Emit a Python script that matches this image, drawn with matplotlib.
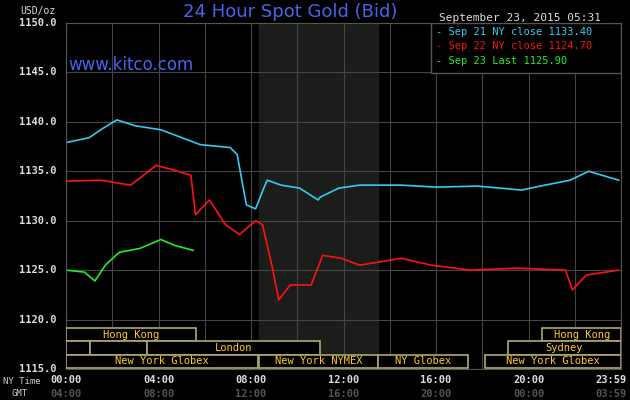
import matplotlib.pyplot as plt
from matplotlib.patches import Rectangle

# hours since 00:00 NY time, price in USD/oz
sep21_hours = [0, 1.0, 1.5, 2.2, 3.0, 4.1, 5.8, 7.1, 7.4, 7.8, 8.2, 8.5, 8.7, 9.3, 10.1, 10.9, 11.0, 11.8, 12.7, 14.5, 16.0, 17.8, 19.7, 20.5, 21.8, 22.6, 23.9]
sep21_price = [1137.9, 1138.4, 1139.2, 1140.2, 1139.6, 1139.2, 1137.7, 1137.4, 1136.7, 1131.6, 1131.2, 1133.0, 1134.1, 1133.6, 1133.3, 1132.1, 1132.4, 1133.3, 1133.6, 1133.6, 1133.4, 1133.5, 1133.1, 1133.5, 1134.1, 1135.0, 1134.1]
sep22_hours = [0, 1.5, 2.8, 3.9, 4.7, 5.4, 5.6, 6.2, 6.9, 7.5, 8.2, 8.5, 8.9, 9.2, 9.7, 10.6, 11.1, 11.9, 12.7, 14.5, 15.8, 17.5, 19.5, 21.6, 21.9, 22.5, 23.9]
sep22_price = [1134.0, 1134.1, 1133.6, 1135.6, 1135.1, 1134.6, 1130.6, 1132.1, 1129.6, 1128.6, 1130.0, 1129.6, 1125.5, 1122.0, 1123.5, 1123.5, 1126.5, 1126.2, 1125.5, 1126.2, 1125.5, 1125.0, 1125.2, 1125.0, 1123.0, 1124.5, 1125.0]
sep23_hours = [0, 0.8, 1.25, 1.7, 2.3, 3.2, 4.1, 4.7, 5.5]
sep23_price = [1125.0, 1124.8, 1123.9, 1125.5, 1126.8, 1127.2, 1128.1, 1127.5, 1127.0]

sessions = [  # (row, start, end, label)
    (2, 0, 5.6, 'Hong Kong'), (2, 20.6, 24, 'Hong Kong'),
    (1, 0, 1.05, ''), (1, 1.05, 3.5, ''), (1, 3.5, 11.0, 'London'), (1, 19.1, 24, 'Sydney'),
    (0, 0, 8.3, 'New York Globex'), (0, 8.35, 13.5, 'New York NYMEX'),
    (0, 13.5, 17.4, 'NY Globex'), (0, 18.1, 24, 'New York Globex'),
]
tick_hours = [0, 4, 8, 12, 16, 20, 24]
ny_labels = ['00:00', '04:00', '08:00', '12:00', '16:00', '20:00', '23:59']
gmt_labels = ['04:00', '08:00', '12:00', '16:00', '20:00', '00:00', '03:59']

mono = 'DejaVu Sans Mono'
fig = plt.figure(figsize=(6.3, 4), dpi=100, facecolor='black')
ax = fig.add_axes([66/630, 31/400, 555/630, 346/400], facecolor='black')
ax.set_xlim(0, 24)
ax.set_ylim(1115, 1150)
for s in ax.spines.values():
    s.set_color('#555555')
ax.set_xticks(range(0, 25, 2))
ax.set_yticks(range(1115, 1151, 5))
ax.grid(True, color='#444444', linewidth=0.8)
ax.tick_params(length=0, labelbottom=False, labelleft=False)
ax.axvspan(8.33, 13.5, color='#1a1d1a', zorder=0)

ax.plot(sep21_hours, sep21_price, color='#33ccee', lw=1.2)
ax.plot(sep22_hours, sep22_price, color='#ff1111', lw=1.2)
ax.plot(sep23_hours, sep23_price, color='#22ee22', lw=1.2)

for y in range(1115, 1151, 5):
    ax.text(-0.4, y, f'{y:.1f}', ha='right', va='center', color='#dddddd',
            family=mono, fontsize=7.5, fontweight='bold')
fig.text(20/630, 1 - 11/400, 'USD/oz', color='#dddddd', family=mono, fontsize=7, va='center')

# trading session bands
row_h = 1.35
for row, a, b, lab in sessions:
    y0 = 1115.1 + row * row_h
    ax.add_patch(Rectangle((a, y0), b - a, row_h, facecolor='black',
                           edgecolor='#b0a870', lw=1.2, zorder=3))
    if lab:
        ax.text((a + b) / 2, y0 + row_h / 2, lab, ha='center', va='center',
                color='#ffcc22', family=mono, fontsize=7.5, zorder=4)

for h, ny, gmt in zip(tick_hours, ny_labels, gmt_labels):
    ha = 'right' if h == 24 else 'center'
    xh = 24.25 if h == 24 else h
    ax.text(xh, 1113.9, ny, ha=ha, va='center', color='#dddddd',
            family=mono, fontsize=7.5, fontweight='bold')
    ax.text(xh, 1112.5, gmt, ha=ha, va='center', color='#555555',
            family=mono, fontsize=7.5, fontweight='bold')
fig.text(3/630, 1 - 381/400, 'NY Time', va='center', color='#cccccc', family=mono, fontsize=6.5)
fig.text(11/630, 1 - 394/400, 'GMT', va='center', color='#cccccc', family=mono, fontsize=6.5)

fig.text(0.46, 0.97, '24 Hour Spot Gold (Bid)', ha='center', va='center',
         color='#4466ee', fontsize=13)
ax.text(0.1, 1145.8, 'www.kitco.com', color='#4466ee', fontsize=12, va='center')
fig.text(0.697, 0.955, 'September 23, 2015 05:31', color='#dddddd', family=mono,
         fontsize=8, va='center')

# legend box
ax.add_patch(Rectangle((15.8, 1144.9), 8.2, 5.1, facecolor='black',
                       edgecolor='#555555', lw=1, zorder=3))
legend = [('Sep 21 NY close 1133.40', '#33ccee'),
          ('Sep 22 NY close 1124.70', '#ff1111'),
          ('Sep 23 Last 1125.90', '#22ee22')]
for i, (t, c) in enumerate(legend):
    ax.text(16.0, 1149.1 - i * 1.45, '- ' + t, color=c, family=mono,
            fontsize=7.5, va='center', zorder=4)

fig.savefig('out.png', dpi=100, facecolor='black')
